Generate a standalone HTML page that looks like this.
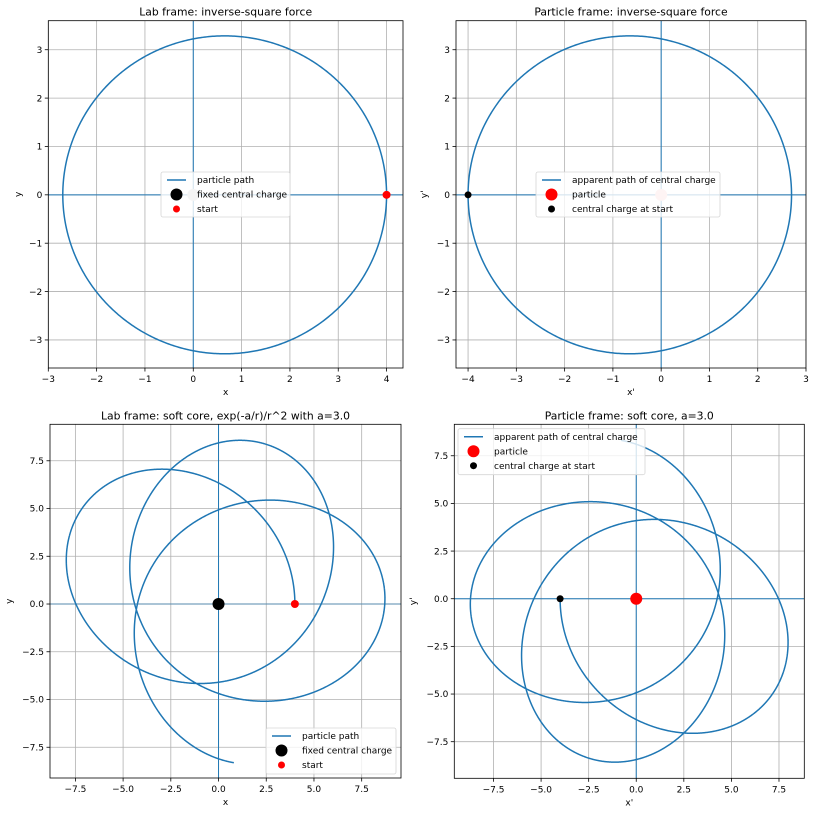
<!DOCTYPE html>
<html><head><meta charset="utf-8">
<style>
html,body{margin:0;padding:0;background:#fff;}
svg{display:block;}
text{font-family:"DejaVu Sans","Liberation Sans",sans-serif;fill:#000;}
</style></head>
<body>
<svg id="s" width="816" height="816" viewBox="0 0 816 816" xmlns="http://www.w3.org/2000/svg"></svg>
<script>
const S=document.getElementById('s');
const NS='http://www.w3.org/2000/svg';
function el(t,a,p){const e=document.createElementNS(NS,t);for(const k in a)e.setAttribute(k,a[k]);(p||S).appendChild(e);return e;}
function txt(x,y,s,a){const e=el('text',Object.assign({x:x,y:y},a||{}));e.textContent=s;return e;}
const BLUE='#1f77b4';
let cid=0;
function fmtTick(v,dec){let s=v.toFixed(dec);if(v<0)s='\u2212'+s.slice(1);if(Math.abs(v)<1e-9)s=(0).toFixed(dec);return s;}
function panel(o){
  const sx=x=>o.L+(x-o.xmin)/(o.xmax-o.xmin)*(o.R-o.L);
  const sy=y=>o.B-(y-o.ymin)/(o.ymax-o.ymin)*(o.B-o.T);
  const id='c'+(cid++);
  const cp=el('clipPath',{id:id});el('rect',{x:o.L,y:o.T,width:o.R-o.L,height:o.B-o.T},cp);
  const g=el('g',{'clip-path':'url(#'+id+')'});
  for(const t of o.xt)el('line',{x1:sx(t),x2:sx(t),y1:o.T,y2:o.B,stroke:'#b0b0b0','stroke-width':0.8},g);
  for(const t of o.yt)el('line',{y1:sy(t),y2:sy(t),x1:o.L,x2:o.R,stroke:'#b0b0b0','stroke-width':0.8},g);
  el('line',{x1:o.L,x2:o.R,y1:sy(0),y2:sy(0),stroke:BLUE,'stroke-width':o.hw||1,'stroke-opacity':o.ha||1},g);
  el('line',{y1:o.T,y2:o.B,x1:sx(0),x2:sx(0),stroke:BLUE,'stroke-width':1},g);
  let d='';o.pts.forEach((p,i)=>{d+=(i?'L':'M')+sx(p[0]).toFixed(2)+' '+sy(p[1]).toFixed(2);});
  el('path',{d:d,fill:'none',stroke:BLUE,'stroke-width':1.5},g);
  for(const m of o.marks)el('circle',{cx:sx(m[0]),cy:sy(m[1]),r:m[2],fill:m[3]},g);
  el('rect',{x:o.L,y:o.T,width:o.R-o.L,height:o.B-o.T,fill:'none',stroke:'#000','stroke-width':0.8});
  for(const t of o.xt){const X=sx(t);el('line',{x1:X,x2:X,y1:o.B,y2:o.B+3.5,stroke:'#000','stroke-width':0.8});txt(X,o.B+14,fmtTick(t,o.dec),{'font-size':9,'text-anchor':'middle'});}
  for(const t of o.yt){const Y=sy(t);el('line',{x1:o.L-3.5,x2:o.L,y1:Y,y2:Y,stroke:'#000','stroke-width':0.8});txt(o.L-6,Y+3.2,fmtTick(t,o.dec),{'font-size':9,'text-anchor':'end'});}
  txt((o.L+o.R)/2,o.B+27,o.xl,{'font-size':9,'text-anchor':'middle'});
  const yx=o.yx,yy=(o.T+o.B)/2;
  txt(yx,yy,o.yl,{'font-size':9,'text-anchor':'middle',transform:'rotate(-90 '+yx+' '+yy+')'});
  txt((o.L+o.R)/2,o.T-5,o.title,{'font-size':10.8,'text-anchor':'middle'});
  const lg=o.leg;
  el('rect',{x:lg.x,y:lg.y,width:lg.w,height:lg.h,rx:2,fill:'#fff','fill-opacity':0.8,stroke:'#d6d6d6','stroke-width':0.8});
  lg.items.forEach((it,i)=>{const Y=lg.y+8+i*14.5;const X=lg.x+6;
    if(it[0]==='line')el('line',{x1:X,x2:X+19,y1:Y,y2:Y,stroke:BLUE,'stroke-width':1.5});
    else el('circle',{cx:X+9.5,cy:Y,r:it[1],fill:it[2]});
    txt(X+30,Y+3.2,it[3],{'font-size':9});});
}
const ell=[];const e=0.194,p=3.224;
for(let i=0;i<=720;i++){const th=i/720*2*Math.PI;const r=p/(1-e*Math.cos(th));ell.push([r*Math.cos(th),r*Math.sin(th)]);}
const ellN=ell.map(q=>[-q[0],-q[1]]);
const pts=[];
(function(){let x=4,y=0,vx=0,vy=0.447;const k=1,a=3,dt=0.005;
 function acc(x,y){const r=Math.hypot(x,y);const f=-k*Math.exp(-a/r)/(r*r);return [f*x/r,f*y/r];}
 let A=acc(x,y);let th=0,prev=0;pts.push([x,y]);
 for(let i=0;i<800000;i++){vx+=0.5*dt*A[0];vy+=0.5*dt*A[1];x+=dt*vx;y+=dt*vy;A=acc(x,y);vx+=0.5*dt*A[0];vy+=0.5*dt*A[1];
  const ang=Math.atan2(y,x);let d=ang-prev;if(d>Math.PI)d-=2*Math.PI;if(d<-Math.PI)d+=2*Math.PI;th+=d;prev=ang;
  if(i%20===0)pts.push([x,y]);
  if(th>=17.375){pts.push([x,y]);break;}}
})();
const ptsN=pts.map(q=>[-q[0],-q[1]]);
panel({L:48.3,R:403,T:20.7,B:368,xmin:-3,xmax:4.34,ymin:-3.58,ymax:3.6,xt:[-3,-2,-1,0,1,2,3,4],yt:[-3,-2,-1,0,1,2,3],dec:0,
 pts:ell,marks:[[0,0,6,'#c8c8c8'],[4,0,4,'#ff0000']],xl:'x',yl:'y',yx:21,title:'Lab frame: inverse-square force',
 leg:{x:161,y:172,w:129,h:45,items:[['line',0,0,'particle path'],['c',6,'#000','fixed central charge'],['c',3.5,'#f00','start']]}});
panel({L:456,R:806,T:20.7,B:368,xmin:-4.25,xmax:3.0,ymin:-3.58,ymax:3.6,xt:[-4,-3,-2,-1,0,1,2,3],yt:[-3,-2,-1,0,1,2,3],dec:0,
 pts:ellN,marks:[[0,0,6,'#f9c6c6'],[-4,0,3.5,'#000']],xl:"x'",yl:"y'",yx:427,title:'Particle frame: inverse-square force',
 leg:{x:536,y:172,w:184,h:45,items:[['line',0,0,'apparent path of central charge'],['c',6,'#f00','particle'],['c',3.5,'#000','central charge at start']]}});
panel({L:50,R:401,T:424.3,B:778,xmin:-8.83,xmax:9.56,ymin:-9.11,ymax:9.41,xt:[-7.5,-5,-2.5,0,2.5,5,7.5],yt:[-7.5,-5,-2.5,0,2.5,5,7.5],dec:1,
 pts:pts,marks:[[0,0,6,'#000'],[4,0,4,'#f00']],hw:1.5,ha:0.4,xl:'x',yl:'y',yx:12,title:'Lab frame: soft core, exp(-a/r)/r^2 with a=3.0',
 leg:{x:266,y:728,w:130,h:46,items:[['line',0,0,'particle path'],['c',6,'#000','fixed central charge'],['c',3.5,'#f00','start']]}});
panel({L:454.3,R:804.3,T:424.3,B:778.3,xmin:-9.56,xmax:8.83,ymin:-9.42,ymax:9.15,xt:[-7.5,-5,-2.5,0,2.5,5,7.5],yt:[-7.5,-5,-2.5,0,2.5,5,7.5],dec:1,
 pts:ptsN,marks:[[0,0,6,'#f00'],[-4,0,3.5,'#000']],xl:"x'",yl:"y'",yx:416,title:'Particle frame: soft core, a=3.0',
 leg:{x:458,y:428.7,w:187,h:46,items:[['line',0,0,'apparent path of central charge'],['c',6,'#f00','particle'],['c',3.5,'#000','central charge at start']]}});
</script>
</body></html>
